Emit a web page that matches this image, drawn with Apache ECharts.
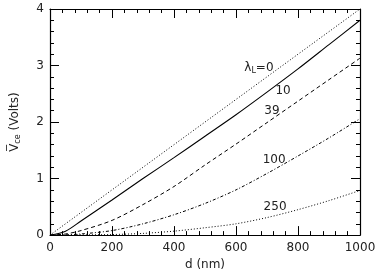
<!DOCTYPE html>
<html><head><meta charset="utf-8">
<script src="https://cdn.jsdelivr.net/npm/echarts@6/dist/echarts.min.js"></script>
<style>html,body{margin:0;padding:0;background:#fff}#c{width:382px;height:276px}</style>
</head><body><div id="c"></div>
<script>
var dGrid = [0, 50, 100, 200, 300, 400, 500, 600, 700, 800, 900, 1000];
var vL0   = [0, 0.2, 0.4, 0.8, 1.2, 1.6, 2.0, 2.4, 2.8, 3.2, 3.6, 4.0];
var vL10  = [0, 0.07, 0.25, 0.62, 1.0, 1.37, 1.75, 2.13, 2.53, 2.94, 3.37, 3.80];
var vL39  = [0, 0.02, 0.08, 0.26, 0.54, 0.86, 1.24, 1.61, 1.99, 2.37, 2.75, 3.13];
var vL100 = [0, 0.005, 0.02, 0.08, 0.2, 0.36, 0.56, 0.80, 1.09, 1.40, 1.72, 2.06];
var vL250 = [0, 0, 0.003, 0.01, 0.03, 0.07, 0.13, 0.2, 0.31, 0.45, 0.61, 0.79];
var curveLabels = ['{l|λ}{s|L}{l|=0}', '10', '39', '100', '250'];
var labelAt = [[674, 2.96], [752, 2.55], [716, 2.19], [723, 1.33], [726, 0.50]];
var xTicks = [0, 200, 400, 600, 800, 1000];
var yTicks = [0, 1, 2, 3, 4];

function pairs(v){ return dGrid.map(function(d,i){ return [d, v[i]]; }); }
var series = [vL0, vL10, vL39, vL100, vL250];
var styles = [
  {type:[1,2], width:1, smooth:false},
  {type:'solid', width:1.1, smooth:0.3},
  {type:[4,3], width:1, smooth:0.3},
  {type:[3,2,1,2], width:1, smooth:0.3},
  {type:[1,2], width:1, smooth:0.3}
];
var txt = '#222';
var font = 'DejaVu Sans';
function axisX(show){
  return {type:'value', min:0, max:1000, interval:200, position: show?'bottom':'top',
    name: show?'d (nm)':'', nameLocation:'middle', nameGap:19,
    nameTextStyle:{color:txt, fontSize:12, fontFamily:font},
    axisLine:{show:true, onZero:false, lineStyle:{color:'#000', width:1.2}},
    axisTick:{show:true, inside:true, length:9, lineStyle:{color:'#000'}},
    minorTick:{show:true, splitNumber:5, length:4, lineStyle:{color:'#000'}},
    axisLabel:{show:show, color:txt, fontSize:12, fontFamily:font, margin:7,
      formatter:function(v){ return xTicks.indexOf(v) >= 0 ? String(v) : ''; }},
    splitLine:{show:false}};
}
function axisY(show){
  return {type:'value', min:0, max:4, interval:1, position: show?'left':'right',
    name: show?'{v|V̅}{sub|ce}{n| (Volts)}':'', nameLocation:'middle', nameGap:28, nameRotate:90,
    nameTextStyle:{color:txt, fontSize:12, fontFamily:font,
      rich:{v:{fontSize:12, fontFamily:font, color:txt}, sub:{fontSize:8, fontFamily:font, color:txt, padding:[6,0,0,0]}, n:{fontSize:12, fontFamily:font, color:txt}}},
    axisLine:{show:true, onZero:false, lineStyle:{color:'#000', width:1.2}},
    axisTick:{show:true, inside:true, length:9, lineStyle:{color:'#000'}},
    minorTick:{show:true, splitNumber:5, length:4, lineStyle:{color:'#000'}},
    axisLabel:{show:show, color:txt, fontSize:12, fontFamily:font, margin:6,
      formatter:function(v){ return yTicks.indexOf(v) >= 0 ? String(v) : ''; }},
    splitLine:{show:false}};
}
var opt = {
  animation:false,
  grid:{left:50, right:22, top:9, bottom:33},
  xAxis:[axisX(true), axisX(false)],
  yAxis:[axisY(true), axisY(false)],
  series: series.map(function(v,i){
    return {type:'line', data:pairs(v), smooth:styles[i].smooth, symbol:'none',
      lineStyle:{color:'#000', width:styles[i].width, type:styles[i].type},
      markPoint:{symbol:'circle', symbolSize:0, silent:true,
        data:[{coord:labelAt[i], value:0}],
        label:{show:true, position:'inside', formatter:curveLabels[i], color:txt, fontSize:12, fontFamily:font,
          rich:{l:{fontSize:12, fontFamily:font, color:txt}, s:{fontSize:8, fontFamily:font, color:txt, padding:[6,0,0,0]}}}}};
  })
};
echarts.init(document.getElementById('c')).setOption(opt);
</script></body></html>
